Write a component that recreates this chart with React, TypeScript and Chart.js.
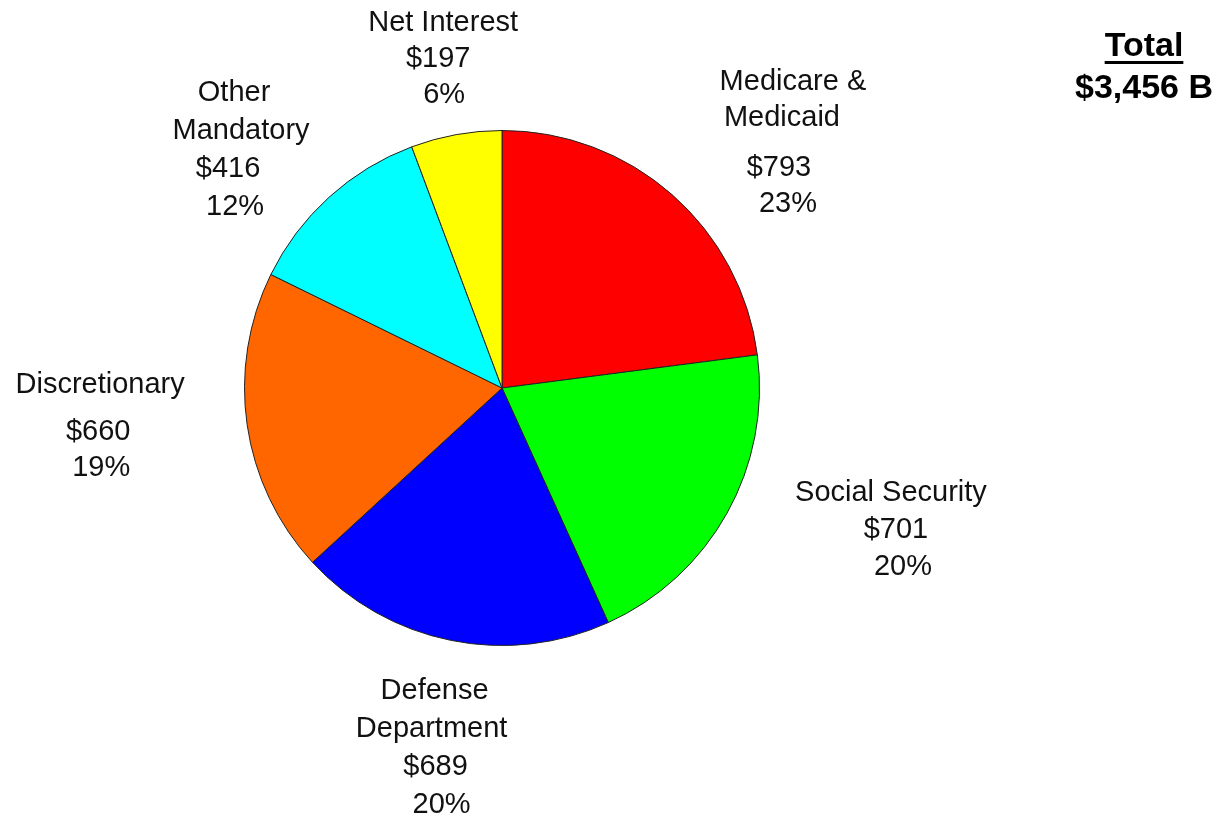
import React, { useEffect, useRef } from "react";
import { Chart, registerables } from "chart.js";

Chart.register(...registerables);

// ---- Data ----
const categories = [
  "Medicare & Medicaid",
  "Social Security",
  "Defense Department",
  "Discretionary",
  "Other Mandatory",
  "Net Interest",
];
const values = [793, 701, 689, 660, 416, 197];
const percents = ["23%", "20%", "20%", "19%", "12%", "6%"];
const nameLines = [
  ["Medicare &", "Medicaid"],
  ["Social Security"],
  ["Defense", "Department"],
  ["Discretionary"],
  ["Other", "Mandatory"],
  ["Net Interest"],
];
const sliceColors = ["#FF0000", "#00FF00", "#0000FF", "#FF6600", "#00FFFF", "#FFFF00"];
const totalTitle = "Total";
const totalValue = "$3,456 B";

// ---- Label layout (offsets from each slice's outer mid point) ----
const labelOffsets = [
  { dx: 114, dy: -113, lh: 36, gap: 14, lineDx: [7, -4, -7, 2] },
  { dx: 169, dy: -20, lh: 37, gap: 0, lineDx: [-5, 0, 7] },
  { dx: -15, dy: 51, lh: 38, gap: 0, lineDx: [-1, -4, 0, 6] },
  { dx: -147, dy: -40, lh: 36, gap: 11, lineDx: [0, -2, 1] },
  { dx: -95, dy: -104, lh: 38, gap: 0, lineDx: [0, 7, -6, 1] },
  { dx: -14, dy: -112, lh: 36, gap: 0, lineDx: [1, -4, 2] },
];

const LABEL_FONT = '29px "Liberation Sans", Arial, sans-serif';
const TOTAL_FONT = 'bold 34px "Liberation Sans", Arial, sans-serif';

const labelPlugin = {
  id: "sliceLabels",
  afterDraw(chart: any) {
    const ctx = chart.ctx as CanvasRenderingContext2D;
    const meta = chart.getDatasetMeta(0);
    ctx.save();
    ctx.fillStyle = "#111";
    ctx.textAlign = "center";
    ctx.textBaseline = "middle";
    ctx.font = LABEL_FONT;
    meta.data.forEach((arc: any, i: number) => {
      const p = arc.getProps(["x", "y", "startAngle", "endAngle", "outerRadius"], true);
      const mid = (p.startAngle + p.endAngle) / 2;
      const ox = p.x + p.outerRadius * Math.cos(mid);
      const oy = p.y + p.outerRadius * Math.sin(mid);
      const lay = labelOffsets[i];
      const bx = ox + lay.dx;
      let y = oy + lay.dy;
      const lines = [...nameLines[i], "$" + values[i], percents[i]];
      lines.forEach((t, j) => {
        if (j === nameLines[i].length) y += lay.gap;
        ctx.fillText(t, bx + (lay.lineDx[j] || 0), y);
        y += lay.lh;
      });
    });
    // Total
    ctx.font = TOTAL_FONT;
    ctx.fillStyle = "#000";
    const tx = 1144;
    ctx.fillText(totalTitle, tx, 47);
    const w = ctx.measureText(totalTitle).width;
    ctx.fillRect(tx - w / 2, 61, w, 3);
    ctx.fillText(totalValue, tx, 89);
    ctx.restore();
  },
};

export default function App() {
  const ref = useRef<HTMLCanvasElement | null>(null);
  useEffect(() => {
    if (!ref.current) return;
    const chart = new Chart(ref.current, {
      type: "pie",
      data: {
        labels: categories,
        datasets: [
          {
            data: values,
            backgroundColor: sliceColors,
            borderColor: "#222",
            borderWidth: 1,
          },
        ],
      },
      options: {
        responsive: false,
        animation: false,
        layout: { padding: { left: 244, top: 130, right: 458, bottom: 174 } },
        plugins: {
          legend: { display: false },
          tooltip: { enabled: false },
          title: { display: false },
        },
      },
      plugins: [labelPlugin],
    });
    return () => chart.destroy();
  }, []);
  return (
    <div style={{ position: "absolute", left: 0, top: 0, width: 1218, height: 820, background: "#fff" }}>
      <canvas ref={ref} width={1218} height={820} style={{ width: 1218, height: 820 }} />
    </div>
  );
}
